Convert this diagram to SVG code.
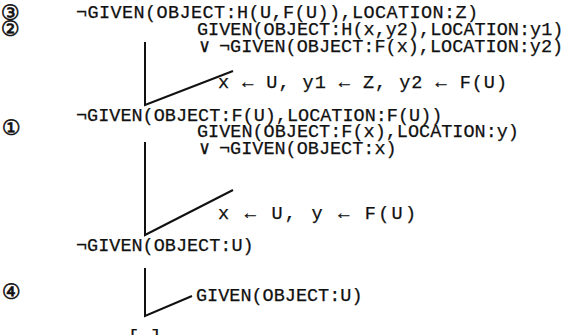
<svg xmlns="http://www.w3.org/2000/svg" width="581" height="335" viewBox="0 0 581 335">
<style>
.t{font-family:"Liberation Mono","DejaVu Sans Mono",monospace;font-size:18.5px;fill:#111;stroke:#111;stroke-width:0.25}
.n{font-family:"DejaVu Sans","Noto Sans CJK JP",sans-serif;font-size:21px;fill:#111;stroke:#111;stroke-width:0.6}
.c{fill:none;stroke:#111;stroke-width:2}
</style>
<rect width="581" height="335" fill="#fff"/>
<g id="labels">
<text class="n" x="1" y="20">③</text>
<text class="n" x="1" y="36">②</text>
<text class="n" x="2" y="135">①</text>
<text class="n" x="2" y="299">④</text>
</g>
<g id="node-goal1"><text class="t" x="76" y="18" textLength="402" lengthAdjust="spacing">¬GIVEN(OBJECT:H(U,F(U)),LOCATION:Z)</text></g>
<g id="node-clause2">
<text class="t" x="197" y="35">GIVEN(OBJECT:H(x,y2),LOCATION:y1)</text>
<text class="t" x="199" y="52">∨<tspan x="219">¬GIVEN(OBJECT:F(x),LOCATION:y2)</tspan></text>
</g>
<g id="node-subst1"><text class="t" x="218" y="88" textLength="289" lengthAdjust="spacing">x ← U, y1 ← Z, y2 ← F(U)</text></g>
<g id="node-goal2"><text class="t" x="76" y="121">¬GIVEN(OBJECT:F(U),LOCATION:F(U))</text></g>
<g id="node-clause1">
<text class="t" x="197" y="137">GIVEN(OBJECT:F(x),LOCATION:y)</text>
<text class="t" x="199" y="154">∨<tspan x="219">¬GIVEN(OBJECT:x)</tspan></text>
</g>
<g id="node-subst2"><text class="t" x="218" y="219" textLength="198" lengthAdjust="spacing">x ← U, y ← F(U)</text></g>
<g id="node-goal3"><text class="t" x="76" y="251">¬GIVEN(OBJECT:U)</text></g>
<g id="node-clause4"><text class="t" x="196" y="301">GIVEN(OBJECT:U)</text></g>
<g id="node-empty"><text class="t" x="128" y="342">[ ]</text></g>
<g id="connectors">
<polyline class="c" points="145,42 145,105 233,71"/>
<polyline class="c" points="145,142 145,235 233,190"/>
<polyline class="c" points="145,268 145,316 192,296"/>
</g>
</svg>
